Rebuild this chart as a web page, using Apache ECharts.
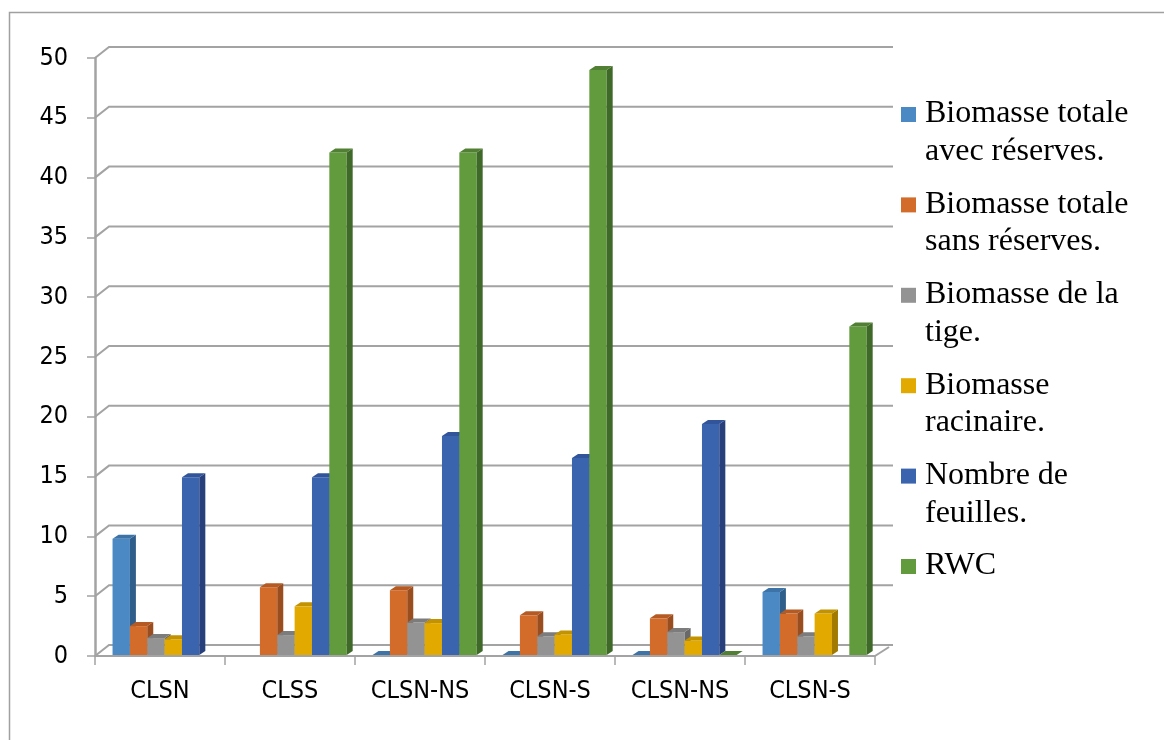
<!DOCTYPE html>
<html>
<head>
<meta charset="utf-8">
<script src="https://cdn.jsdelivr.net/npm/echarts@6/dist/echarts.min.js"></script>
<style>
  html, body { margin: 0; padding: 0; background: #fff; }
  #chart { width: 1164px; height: 740px; }
</style>
</head>
<body>
<div id="chart"></div>
<script>
// Treatments on the category axis
const categories = ['CLSN', 'CLSS', 'CLSN-NS', 'CLSN-S', 'CLSN-NS', 'CLSN-S'];

// Measured variables (one series each); null = no bar drawn
const seriesNames = [
  'Biomasse totale avec réserves.',
  'Biomasse totale sans réserves.',
  'Biomasse de la tige.',
  'Biomasse racinaire.',
  'Nombre de feuilles.',
  'RWC'
];
const legendLines = [
  ['Biomasse totale', 'avec réserves.'],
  ['Biomasse totale', 'sans réserves.'],
  ['Biomasse de la', 'tige.'],
  ['Biomasse', 'racinaire.'],
  ['Nombre de', 'feuilles.'],
  ['RWC']
];
const biomasseAvecReserves = [9.8, null, 0, 0, 0, 5.35];
const biomasseSansReserves = [2.5, 5.75, 5.5, 3.4, 3.15, 3.55];
const biomasseTige         = [1.5, 1.75, 2.8, 1.65, 2.0, 1.65];
const biomasseRacinaire    = [1.4, 4.15, 2.75, 1.8, 1.3, 3.55];
const nombreFeuilles       = [14.95, 14.95, 18.4, 16.55, 19.4, null];
const rwc                  = [null, 42.1, 42.1, 49.0, 0, 27.55];
const seriesValues = [biomasseAvecReserves, biomasseSansReserves, biomasseTige,
                      biomasseRacinaire, nombreFeuilles, rwc];

// Value axis ticks
const yTicks = [0, 5, 10, 15, 20, 25, 30, 35, 40, 45, 50];

// Face colours: front / side / top
const frontColors = ['#4A89C4', '#D36C2B', '#939393', '#E2AA00', '#3B64AE', '#629A3E'];
const sideColors  = ['#2F5E8B', '#9A4D1E', '#696969', '#A27A00', '#27407C', '#3F6928'];
const topColors   = ['#3D73A7', '#B45A22', '#7C7C7C', '#C29200', '#31549A', '#517F33'];

// depth offsets of the pseudo-3D walls and bars
const WALL_DX = 14, WALL_DY = -11;
const BAR_DX = 6, BAR_DY = -4;
const BAR_FRAC = 0.1335;     // bar width as share of a category band
const GROUP_OFFSET = 0.135;  // first bar start within the band

const chart = echarts.init(document.getElementById('chart'), null, { renderer: 'canvas' });

const wallSeries = {
  type: 'custom',
  name: '_walls',
  silent: true,
  z: 1,
  data: yTicks.map(v => [0, v]),
  renderItem: function (params, api) {
    const cs = params.coordSys;
    const y = api.coord([0, api.value(1)])[1];
    const x0 = cs.x, x1 = cs.x + cs.width;
    const children = [{
      type: 'polyline',
      shape: { points: [[x0, y], [x0 + WALL_DX, y + WALL_DY], [x1 + WALL_DX + 4, y + WALL_DY]] },
      style: { stroke: '#a3a3a3', lineWidth: 2, fill: null }
    }];
    if (api.value(1) === 0) {
      children.push({
        type: 'line',
        shape: { x1: x1, y1: y, x2: x1 + WALL_DX, y2: y + WALL_DY + 2 },
        style: { stroke: '#a3a3a3', lineWidth: 2 }
      });
    }
    return { type: 'group', children: children };
  }
};

function makeBarSeries(sIdx) {
  return {
    type: 'custom',
    name: seriesNames[sIdx],
    z: 2,
    itemStyle: { color: frontColors[sIdx] },
    data: seriesValues[sIdx].map((v, i) => [i, v]),
    encode: { x: 0, y: 1 },
    renderItem: function (params, api) {
      const v = api.value(1);
      if (v === null || v === undefined || isNaN(v)) return null;
      const cat = api.value(0);
      const base = api.coord([cat, 0]);
      const top = api.coord([cat, v]);
      const band = api.size([1, 0])[0];
      const w = band * BAR_FRAC;
      const x = base[0] - band / 2 + band * GROUP_OFFSET + sIdx * w;
      const yb = base[1] - 1;
      const yt = Math.min(top[1], yb);
      const children = [];
      if (yb - yt > 0.5) {
        children.push({
          type: 'rect',
          shape: { x: x, y: yt, width: w, height: yb - yt },
          style: { fill: frontColors[sIdx] }
        });
        children.push({
          type: 'polygon',
          shape: { points: [[x + w, yt], [x + w + BAR_DX, yt + BAR_DY], [x + w + BAR_DX, yb + BAR_DY], [x + w, yb]] },
          style: { fill: sideColors[sIdx] }
        });
      }
      children.push({
        type: 'polygon',
        shape: { points: [[x, yt], [x + w, yt], [x + w + BAR_DX, yt + BAR_DY], [x + BAR_DX, yt + BAR_DY]] },
        style: { fill: topColors[sIdx] }
      });
      return { type: 'group', children: children };
    }
  };
}

// Legend drawn as graphic items: square marker beside two-line serif text
const legendGraphics = [];
const LEG_X = 901, LEG_Y0 = 114, LEG_STEP = 90.4, LEG_LINE = 37.5;
legendLines.forEach((lines, i) => {
  const cy = LEG_Y0 + i * LEG_STEP;
  legendGraphics.push({
    type: 'rect',
    left: LEG_X, top: cy - 7,
    shape: { width: 15, height: 15 },
    style: { fill: frontColors[i] }
  });
  lines.forEach((t, j) => {
    legendGraphics.push({
      type: 'text',
      x: LEG_X + 24, y: cy + j * LEG_LINE,
      style: {
        text: t,
        fill: '#000',
        font: '32px "Liberation Serif", "Times New Roman", serif',
        verticalAlign: 'middle',
        align: 'left'
      }
    });
  });
});
// outer frame (left and top edges visible)
legendGraphics.push({
  type: 'rect',
  left: 7, top: 10,
  shape: { width: 1300, height: 900 },
  style: { fill: null, stroke: '#a0a0a0', lineWidth: 1.5 },
  z: -1
});

const labelFont = '"Liberation Sans Narrow", "DejaVu Sans Condensed", "Arial Narrow", sans-serif';

chart.setOption({
  animation: false,
  backgroundColor: '#fff',
  grid: { left: 95, right: 289, top: 58, bottom: 84, containLabel: false },
  xAxis: {
    type: 'category',
    data: categories,
    boundaryGap: true,
    axisLine: { show: true, lineStyle: { color: '#a3a3a3', width: 2 } },
    axisTick: { show: true, length: 9, lineStyle: { color: '#a3a3a3', width: 1.5 } },
    axisLabel: { color: '#000', fontSize: 25, fontFamily: labelFont, margin: 23 },
    splitLine: { show: false }
  },
  yAxis: {
    type: 'value',
    min: 0, max: 50, interval: 5,
    axisLine: { show: true, lineStyle: { color: '#a3a3a3', width: 2.5 } },
    axisTick: { show: true, length: 8, lineStyle: { color: '#a3a3a3', width: 1.5 } },
    axisLabel: { color: '#000', fontSize: 25, fontFamily: labelFont, margin: 27 },
    splitLine: { show: false }
  },
  graphic: legendGraphics,
  series: [wallSeries].concat(seriesNames.map((_, i) => makeBarSeries(i)))
});
</script>
</body>
</html>
